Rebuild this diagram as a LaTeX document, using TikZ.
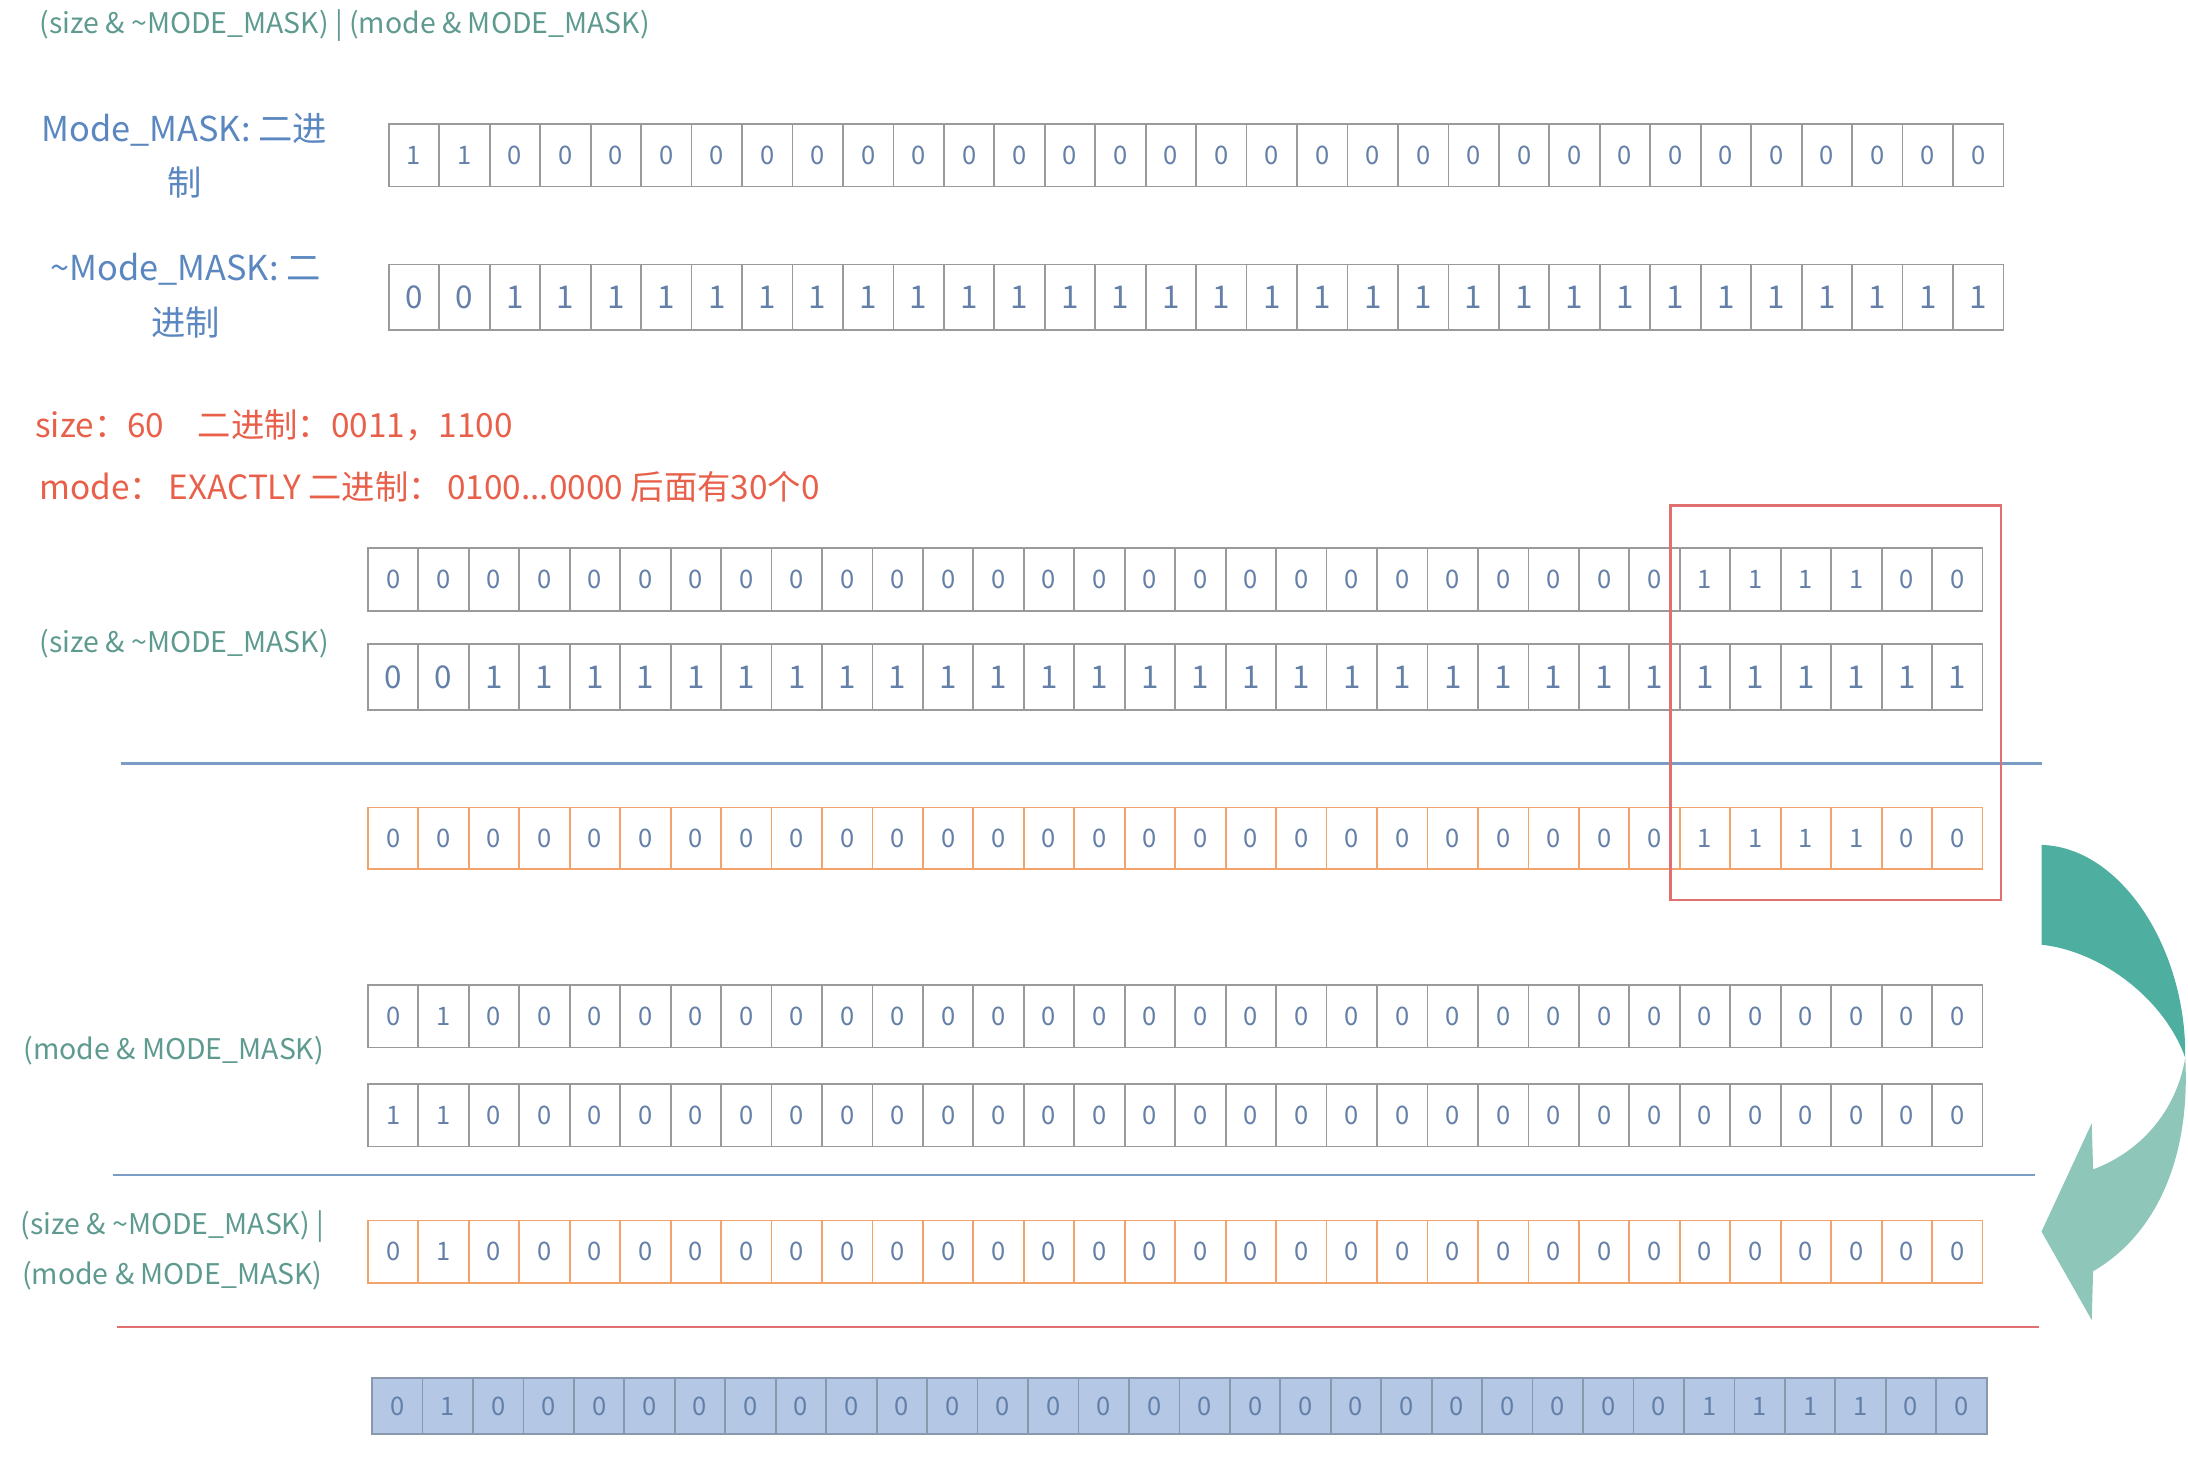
\documentclass[tikz,border=0pt]{standalone}
\usepackage{fontspec}
\setmainfont{Noto Sans CJK SC}
\usepackage{tikz}

\definecolor{cellgray}{HTML}{9A9A9A}
\definecolor{cellorange}{HTML}{F2A36B}
\definecolor{digitblue}{HTML}{6480A8}
\definecolor{finalfill}{HTML}{B4C8E6}
\definecolor{finalgray}{HTML}{8A98AE}
\definecolor{exprteal}{HTML}{5E9A8F}
\definecolor{maskblue}{HTML}{5B87C0}
\definecolor{notered}{HTML}{E8604A}
\definecolor{lineblue}{HTML}{7B9CC4}
\definecolor{linered}{HTML}{E07070}
\definecolor{arrowdark}{HTML}{4EAE9F}
\definecolor{arrowlight}{HTML}{8FC6BA}

% one row of 32 bits: name, left, top, height, style, bits
\newcommand{\bitrow}[6]{
  \foreach \b [count=\i] in {#6}
    \node[#5, minimum height={#4*0.25mm}, anchor=north west] (#1-\i) at ({#2+(\i-1)*36.16}, #3) {\b};
}

\begin{document}
\begin{tikzpicture}[x=0.25mm, y=-0.25mm,
    bit/.style={draw=cellgray, line width=0.9pt, minimum width=9.04mm, inner sep=0pt,
      text=digitblue, font=\fontsize{13}{13}\selectfont},
    big/.style={font=\fontsize{16}{16}\selectfont},
    res/.style={draw=cellorange},
    final/.style={fill=finalfill, draw=finalgray},
    expr/.style={text=exprteal, font=\fontsize{14.5}{25.6}\selectfont, align=center},
    maskname/.style={text=maskblue, font=\fontsize{17.5}{27.7}\selectfont, align=center},
    note/.style={text=notered, font=\fontsize{17}{17}\selectfont, anchor=west, inner sep=0pt},
    rule/.style={line width=1.4pt}]
    \useasboundingbox (0,0) rectangle (1568,1043.5);

    \node[expr, anchor=west, inner sep=0pt] (title) at (28,18) {(size \& \textasciitilde MODE\_MASK) | (mode \& MODE\_MASK)};

    \node[maskname] (masklabel) at (132,111.5) {Mode\_MASK: 二进\\制};
    \bitrow{mask}{278}{88}{45}{bit}{1,1,0,0,0,0,0,0,0,0,0,0,0,0,0,0,0,0,0,0,0,0,0,0,0,0,0,0,0,0,0,0}
    \node[maskname] (nmasklabel) at (133,212) {\textasciitilde Mode\_MASK: 二\\进制};
    \bitrow{nmask}{278}{189}{47}{bit,big}{0,0,1,1,1,1,1,1,1,1,1,1,1,1,1,1,1,1,1,1,1,1,1,1,1,1,1,1,1,1,1,1}

    \node[note] (sizenote) at (25,305) {size：60\quad 二进制：0011，1100};
    \node[note] (modenote) at (28,349) {mode：\,EXACTLY 二进制：\,0100...0000 后面有30个0};

    \node[expr] (sizelabel) at (132,461) {(size \& \textasciitilde MODE\_MASK)};
    \bitrow{size}{263}{392}{45}{bit}{0,0,0,0,0,0,0,0,0,0,0,0,0,0,0,0,0,0,0,0,0,0,0,0,0,0,1,1,1,1,0,0}
    \bitrow{inv}{263}{461}{47}{bit,big}{0,0,1,1,1,1,1,1,1,1,1,1,1,1,1,1,1,1,1,1,1,1,1,1,1,1,1,1,1,1,1,1}
    \draw[rule, lineblue] (87,547) -- (1463,547);
    \bitrow{sizeres}{263}{578}{44}{bit,res}{0,0,0,0,0,0,0,0,0,0,0,0,0,0,0,0,0,0,0,0,0,0,0,0,0,0,1,1,1,1,0,0}
    \draw[rule, linered] (1197,362) rectangle (1434,645);

    \node[expr] (modelabel) at (124.5,753) {(mode \& MODE\_MASK)};
    \bitrow{mode}{263}{705}{45}{bit}{0,1,0,0,0,0,0,0,0,0,0,0,0,0,0,0,0,0,0,0,0,0,0,0,0,0,0,0,0,0,0,0}
    \bitrow{modemask}{263}{776}{45}{bit}{1,1,0,0,0,0,0,0,0,0,0,0,0,0,0,0,0,0,0,0,0,0,0,0,0,0,0,0,0,0,0,0}
    \draw[rule, lineblue] (81,842) -- (1458,842);

    \node[expr] (orlabel) at (123.5,896) {(size \& \textasciitilde MODE\_MASK) |\\(mode \& MODE\_MASK)};
    \bitrow{modeor}{263}{874}{45}{bit,res}{0,1,0,0,0,0,0,0,0,0,0,0,0,0,0,0,0,0,0,0,0,0,0,0,0,0,0,0,0,0,0,0}
    \draw[rule, linered] (84,951) -- (1461,951);

    \bitrow{final}{266}{987}{40}{bit,final}{0,1,0,0,0,0,0,0,0,0,0,0,0,0,0,0,0,0,0,0,0,0,0,0,0,0,1,1,1,1,0,0}

    % curved arrow
    \fill[arrowdark] (1463,605.5) .. controls (1520,607) and (1567,680) .. (1566,758)
      .. controls (1552,718) and (1508,682) .. (1463,677) -- cycle;
    \fill[arrowlight] (1566,758) .. controls (1570,830) and (1545,885) .. (1500,911)
      -- (1499,946) -- (1463,882.6) -- (1499,805) -- (1500,838)
      .. controls (1535,825) and (1560,795) .. (1566,758) -- cycle;
\end{tikzpicture}
\end{document}
